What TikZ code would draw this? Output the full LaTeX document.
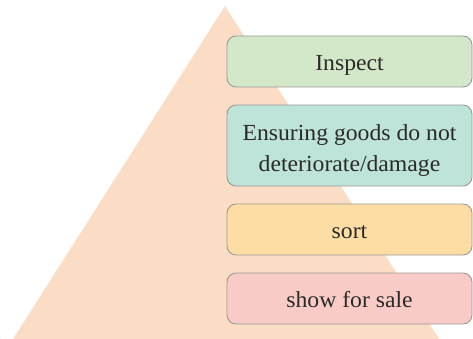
\documentclass[tikz,border=0pt]{standalone}
\usepackage{fontspec}
\setmainfont[FakeStretch=1.03]{Liberation Serif}
\definecolor{pyramid}{HTML}{FBDCC4}
\definecolor{boxA}{HTML}{D3E8C8}
\definecolor{boxB}{HTML}{BEE3D8}
\definecolor{boxC}{HTML}{FDDDA3}
\definecolor{boxD}{HTML}{F9CBC6}
\definecolor{edge}{HTML}{9A9A9A}
\definecolor{ink}{HTML}{2A2A2A}
\tikzset{
  stepbox/.style={draw=edge, line width=0.9pt, rounded corners=9pt,
    text=ink, font=\fontsize{23}{31}\selectfont, align=center,
    minimum width=245pt},
  oneline/.style={stepbox, minimum height=51pt, text height=19pt, text depth=1pt}
}
\begin{document}
\begin{tikzpicture}[x=1pt,y=-1pt]
\useasboundingbox (0,0) rectangle (473,339);
% background pyramid
\fill[pyramid] (225,6) -- (439,339) -- (13,339) -- cycle;
% stacked stages
\node[oneline, fill=boxA] (inspect) at (349.5,61.5) {Inspect};
\node[stepbox, fill=boxB, minimum height=81pt] (protect) at (349.5,145.5) {\rule{0pt}{26pt}Ensuring goods do not\\deteriorate/damage};
\node[oneline, fill=boxC] (sort) at (349.5,229.5) {sort};
\node[oneline, fill=boxD] (sale) at (349.5,298.5) {show for sale};
\end{tikzpicture}
\end{document}
